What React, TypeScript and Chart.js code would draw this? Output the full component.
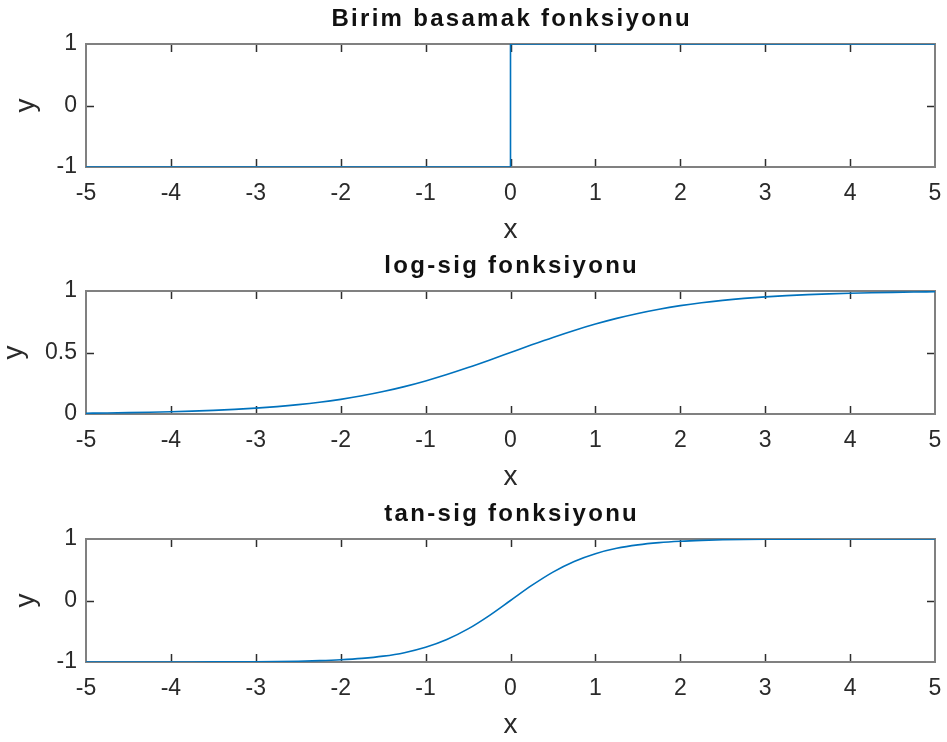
import { useEffect, useRef } from 'react';
import { Chart, registerables } from 'chart.js';

Chart.register(...registerables);

// Sample positions along x
const xValues = [
  -5, -4.75, -4.5, -4.25, -4, -3.75, -3.5, -3.25, -3, -2.75, -2.5, -2.25, -2, -1.75, -1.5, -1.25, -1, -0.75, -0.5, -0.25,
  0, 0.25, 0.5, 0.75, 1, 1.25, 1.5, 1.75, 2, 2.25, 2.5, 2.75, 3, 3.25, 3.5, 3.75, 4, 4.25, 4.5, 4.75, 5,
];

// Unit step (hard limit) corner points
const stepX = [-5, 0, 0, 5];
const stepY = [-1, -1, 1, 1];

// log-sig values at xValues
const logSigY = [
  0.0067, 0.0086, 0.011, 0.0141, 0.018, 0.023, 0.0293, 0.0373, 0.0474, 0.0601, 0.0759, 0.0953, 0.1192, 0.148, 0.1824,
  0.2227, 0.2689, 0.3208, 0.3775, 0.4378, 0.5, 0.5622, 0.6225, 0.6792, 0.7311, 0.7773, 0.8176, 0.852, 0.8808, 0.9047,
  0.9241, 0.9399, 0.9526, 0.9627, 0.9707, 0.977, 0.982, 0.9859, 0.989, 0.9914, 0.9933,
];

// tan-sig values at xValues
const tanSigY = [
  -0.9999, -0.9999, -0.9998, -0.9996, -0.9993, -0.9989, -0.9982, -0.997, -0.9951, -0.9918, -0.9866, -0.978, -0.964,
  -0.9414, -0.9051, -0.8483, -0.7616, -0.6351, -0.4621, -0.2449, 0, 0.2449, 0.4621, 0.6351, 0.7616, 0.8483, 0.9051,
  0.9414, 0.964, 0.978, 0.9866, 0.9918, 0.9951, 0.997, 0.9982, 0.9989, 0.9993, 0.9996, 0.9998, 0.9999, 0.9999,
];

const titles = ['Birim basamak fonksiyonu', 'log-sig fonksiyonu', 'tan-sig fonksiyonu'];
const yRanges = [
  { min: -1, max: 1, step: 1 },
  { min: 0, max: 1, step: 0.5 },
  { min: -1, max: 1, step: 1 },
];
const xRange = { min: -5, max: 5, step: 1 };

const FONT = '"Liberation Sans", Arial, Helvetica, sans-serif';
const TEXT = '#2a2a2a';
const LINE = '#0072BD';
const W = 947;
const H = 247;

const pairs = (xs: number[], ys: number[]) => xs.map((x, i) => ({ x, y: ys[i] }));

// Axes box with inward ticks on all four sides
const framePlugin = {
  id: 'frame',
  beforeDatasetsDraw(chart: any) {
    const { ctx, chartArea: a, scales } = chart;
    const L = 8;
    ctx.save();
    ctx.strokeStyle = '#2e2e2e';
    ctx.lineWidth = 1.5;
    ctx.beginPath();
    scales.x.ticks.forEach((t: any) => {
      if (t.value === scales.x.min || t.value === scales.x.max) return;
      const px = Math.round(scales.x.getPixelForValue(t.value)) + 0.5;
      ctx.moveTo(px, a.bottom);
      ctx.lineTo(px, a.bottom - L);
      ctx.moveTo(px, a.top);
      ctx.lineTo(px, a.top + L);
    });
    scales.y.ticks.forEach((t: any) => {
      if (t.value === scales.y.min || t.value === scales.y.max) return;
      const py = Math.round(scales.y.getPixelForValue(t.value)) + 0.5;
      ctx.moveTo(a.left, py);
      ctx.lineTo(a.left + L, py);
      ctx.moveTo(a.right, py);
      ctx.lineTo(a.right - L, py);
    });
    ctx.stroke();
    ctx.strokeStyle = '#808080';
    ctx.lineWidth = 2;
    ctx.strokeRect(a.left, a.top, a.right - a.left, a.bottom - a.top);
    ctx.restore();
  },
};

// Bold heading above each axes box
const headingPlugin = (text: string) => ({
  id: 'heading',
  afterDraw(chart: any) {
    const { ctx, chartArea: a } = chart;
    ctx.save();
    ctx.font = `bold 24px ${FONT}`;
    (ctx as any).letterSpacing = '2.3px';
    ctx.fillStyle = '#111111';
    ctx.textAlign = 'center';
    ctx.textBaseline = 'middle';
    ctx.fillText(text, (a.left + a.right) / 2 + 1.2, 19);
    ctx.restore();
  },
});

function makeChart(canvas: HTMLCanvasElement, idx: number) {
  const yr = yRanges[idx];
  const data =
    idx === 0 ? pairs(stepX, stepY) : idx === 1 ? pairs(xValues, logSigY) : pairs(xValues, tanSigY);
  return new Chart(canvas, {
    type: 'line',
    data: {
      datasets: [
        {
          data,
          borderColor: LINE,
          borderWidth: 1.6,
          pointRadius: 0,
          fill: false,
          tension: 0,
          cubicInterpolationMode: idx === 0 ? 'default' : 'monotone',
        },
      ],
    },
    options: {
      responsive: false,
      animation: false,
      devicePixelRatio: 1,
      layout: { padding: { top: 44, right: 12, left: 0, bottom: 0 } },
      plugins: {
        legend: { display: false },
        tooltip: { enabled: false },
        title: { display: false },
      },
      scales: {
        x: {
          type: 'linear',
          min: xRange.min,
          max: xRange.max,
          grid: { display: false, drawTicks: false },
          border: { display: false },
          ticks: {
            stepSize: xRange.step,
            autoSkip: false,
            maxRotation: 0,
            padding: 13,
            color: TEXT,
            font: { family: FONT, size: 23, lineHeight: 1.2 },
            callback: (v: any) => `${Number(v)}`,
          },
          title: {
            display: true,
            text: 'x',
            color: TEXT,
            font: { family: FONT, size: 28, lineHeight: 1 },
            padding: { top: 0, bottom: 3 },
          },
          afterFit(s: any) {
            s.height = 80;
            s.paddingLeft = 0;
            s.paddingRight = 0;
          },
        },
        y: {
          type: 'linear',
          min: yr.min,
          max: yr.max,
          grid: { display: false, drawTicks: false },
          border: { display: false },
          ticks: {
            stepSize: yr.step,
            autoSkip: false,
            padding: 9,
            color: TEXT,
            font: { family: FONT, size: 23, lineHeight: 1.2 },
            callback: (v: any) => `${Number(v)}`,
          },
          title: {
            display: true,
            text: 'y',
            color: TEXT,
            font: { family: FONT, size: 28, lineHeight: 1 },
            padding: { top: idx === 1 ? 0 : 12, bottom: 0 },
          },
          afterFit(s: any) {
            s.width = 86;
          },
        },
      },
    } as any,
    plugins: [framePlugin, headingPlugin(titles[idx])],
  });
}

function Panel({ idx }: { idx: number }) {
  const ref = useRef<HTMLCanvasElement | null>(null);
  useEffect(() => {
    if (!ref.current) return;
    const chart = makeChart(ref.current, idx);
    return () => chart.destroy();
  }, [idx]);
  return (
    <canvas
      ref={ref}
      width={W}
      height={H}
      style={{ position: 'absolute', left: 0, top: idx * H + (idx === 2 ? 1 : 0), width: W, height: H, display: 'block' }}
    />
  );
}

export default function App() {
  return (
    <div style={{ position: 'absolute', left: 0, top: 0, width: 947, height: 742, background: '#ffffff' }}>
      {titles.map((_, i) => (
        <Panel key={i} idx={i} />
      ))}
    </div>
  );
}
